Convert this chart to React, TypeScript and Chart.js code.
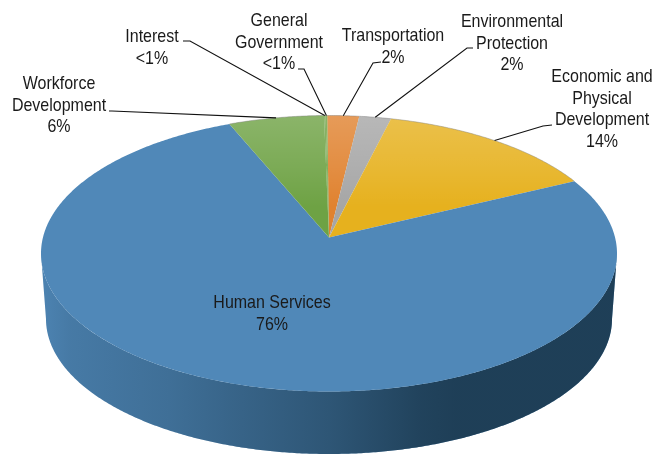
import React, { useEffect, useRef } from "react";
import { Chart, registerables } from "chart.js";

Chart.register(...registerables);

// Budget shares, clockwise from twelve o'clock.
const categories = [
  "Transportation",
  "Environmental Protection",
  "Economic and Physical Development",
  "Human Services",
  "Workforce Development",
  "Interest",
  "General Government",
];
const shares = [2, 2, 14, 76, 6, 0.1, 0.1];
const sliceColors = ["#e0822f", "#a6a6a6", "#e6b11e", "#5088b8", "#6ea244", "#6ea244", "#6ea244"];

// Label text broken over lines, in the same order as the categories.
const labelLines = [
  ["Transportation"],
  ["Environmental", "Protection"],
  ["Economic and", "Physical", "Development"],
  ["Human Services"],
  ["Workforce", "Development"],
  ["Interest"],
  ["General", "Government"],
];

const WIDTH = 667;
const HEIGHT = 455;
const FONT = '18.6px "Liberation Sans", sans-serif';
const TEXT_SQUEEZE = 0.86;
const LINE_HEIGHT = 21.7;

// Tilted disc: the top face and the lower rim are ellipses, and the disc centre
// sits above the ellipse centre because of the perspective.
const TOP = { cx: 329, cy: 253.5, rx: 288, ry: 138 };
const BOTTOM = { cx: 329, cy: 319, rx: 283, ry: 135 };
const TILT = -0.116;

type Ellipse = typeof TOP;

function project(e: Ellipse, u: number, v: number) {
  const w = 1 + TILT * v;
  return {
    x: e.cx + (e.rx * u * Math.sqrt(1 - TILT * TILT)) / w,
    y: e.cy + (e.ry * (v + TILT)) / w,
  };
}

function rimPoint(e: Ellipse, angle: number) {
  return project(e, Math.cos(angle), Math.sin(angle));
}

// Ellipse parameter of a slice angle, as seen on the drawn top face.
function ellipseParam(angle: number) {
  const p = rimPoint(TOP, angle);
  return Math.atan2((p.y - TOP.cy) / TOP.ry, (p.x - TOP.cx) / TOP.rx);
}

const onEllipse = (e: Ellipse, t: number) => ({
  x: e.cx + e.rx * Math.cos(t),
  y: e.cy + e.ry * Math.sin(t),
});

// Where each label block sits (centre x, first baseline) and where its leader starts.
const labelPlacement = [
  { x: 393, y: 41, leader: [[381, 62], [373, 63]] },
  { x: 512, y: 27, leader: [[473, 48], [467, 48]] },
  { x: 602, y: 82, leader: [[552, 125], [543, 126]] },
  { x: 272, y: 308, leader: null },
  { x: 59, y: 89, leader: [[109, 111], [112, 111]] },
  { x: 152, y: 42, leader: [[183, 41], [190, 41]] },
  { x: 279, y: 26, leader: [[298, 69], [304, 69]] },
];

const percentText = (v: number) => (v < 1 ? "<1%" : `${v}%`);

const tiltedPie = {
  id: "tiltedPie",
  beforeDatasetsDraw(chart: any) {
    const { ctx } = chart;
    const arcs = chart.getDatasetMeta(0).data;
    const colors = chart.data.datasets[0].backgroundColor;
    const STEP = Math.PI / 360;

    const steps = (from: number, to: number) => {
      const n = Math.max(1, Math.ceil(Math.abs(to - from) / STEP));
      return Array.from({ length: n + 1 }, (_, i) => from + ((to - from) * i) / n);
    };

    // Outer wall, shaded from left to right. Only the front half of the rim shows,
    // so each slice's wall is limited to that half.
    const shade = ctx.createLinearGradient(TOP.cx - TOP.rx, 0, TOP.cx + TOP.rx, 0);
    shade.addColorStop(0, "rgba(15,40,57,0.05)");
    shade.addColorStop(0.05, "rgba(15,40,57,0.15)");
    shade.addColorStop(0.22, "rgba(15,40,57,0.26)");
    shade.addColorStop(0.33, "rgba(15,40,57,0.37)");
    shade.addColorStop(0.5, "rgba(15,40,57,0.52)");
    shade.addColorStop(0.66, "rgba(15,40,57,0.72)");
    shade.addColorStop(0.72, "rgba(15,40,57,0.76)");
    shade.addColorStop(1, "rgba(15,40,57,0.76)");
    arcs.forEach((arc: any, i: number) => {
      const tStart = ellipseParam(arc.startAngle);
      const tiny = Math.PI * 2;
      const tEnd = tStart + ((ellipseParam(arc.endAngle) - tStart + tiny) % tiny);
      const from = Math.max(tStart, 0);
      const to = Math.min(tEnd, Math.PI);
      if (to <= from) return;
      const sweep = steps(from, to);
      const upper = sweep.map((t) => onEllipse(TOP, t));
      const lower = [...sweep].reverse().map((t) => onEllipse(BOTTOM, t));
      const wall = new Path2D();
      [...upper, ...lower].forEach((p, k) => (k ? wall.lineTo(p.x, p.y) : wall.moveTo(p.x, p.y)));
      wall.closePath();
      ctx.fillStyle = colors[i];
      ctx.fill(wall);
      ctx.fillStyle = shade;
      ctx.fill(wall);
    });

    // Top face, with a soft highlight towards the back rim.
    const apex = project(TOP, 0, 0);
    const sheen = ctx.createLinearGradient(0, TOP.cy - TOP.ry, 0, apex.y);
    sheen.addColorStop(0, "rgba(255,255,255,0.2)");
    sheen.addColorStop(0.4, "rgba(255,255,255,0.1)");
    sheen.addColorStop(0.75, "rgba(255,255,255,0)");
    arcs.forEach((arc: any, i: number) => {
      const face = new Path2D();
      face.moveTo(apex.x, apex.y);
      const rim = steps(arc.startAngle, arc.endAngle).map((a) => rimPoint(TOP, a));
      rim.forEach((p) => face.lineTo(p.x, p.y));
      face.closePath();
      ctx.fillStyle = colors[i];
      ctx.fill(face);
      if (i !== 3) {
        ctx.fillStyle = sheen;
        ctx.fill(face);
        // Faint grey line along the back rim.
        ctx.strokeStyle = "rgba(130,130,130,0.45)";
        ctx.lineWidth = 1;
        ctx.beginPath();
        rim.forEach((p, k) => (k ? ctx.lineTo(p.x, p.y) : ctx.moveTo(p.x, p.y)));
        ctx.stroke();
      }
    });
    return false;
  },
  afterDraw(chart: any) {
    const { ctx } = chart;
    const arcs = chart.getDatasetMeta(0).data;
    const values = chart.data.datasets[0].data;

    // Leaders run from each label to the rim at the middle of its slice.
    ctx.strokeStyle = "#111";
    ctx.lineWidth = 1.1;
    labelPlacement.forEach((place, i) => {
      if (!place.leader) return;
      const arc = arcs[i];
      const end = rimPoint(TOP, (arc.startAngle + arc.endAngle) / 2);
      ctx.beginPath();
      ctx.moveTo(place.leader[0][0], place.leader[0][1]);
      ctx.lineTo(place.leader[1][0], place.leader[1][1]);
      ctx.lineTo(end.x, end.y);
      ctx.stroke();
    });

    ctx.font = FONT;
    ctx.fillStyle = "#1a1a1a";
    ctx.textAlign = "center";
    ctx.textBaseline = "alphabetic";
    labelPlacement.forEach((place, i) => {
      const lines = [...labelLines[i], percentText(values[i])];
      lines.forEach((line, k) => {
        ctx.save();
        ctx.translate(place.x, place.y + k * LINE_HEIGHT);
        ctx.scale(TEXT_SQUEEZE, 1);
        ctx.fillText(line, 0, 0);
        ctx.restore();
      });
    });
  },
};

export default function App() {
  const ref = useRef<HTMLCanvasElement>(null);
  useEffect(() => {
    const chart = new Chart(ref.current!, {
      type: "pie",
      data: {
        labels: categories,
        datasets: [{ data: shares, backgroundColor: sliceColors, borderWidth: 0 }],
      },
      options: {
        animation: false,
        responsive: false,
        rotation: -0.4,
        plugins: { legend: { display: false }, tooltip: { enabled: false } },
      },
      plugins: [tiltedPie],
    });
    return () => chart.destroy();
  }, []);
  return (
    <canvas
      ref={ref}
      width={WIDTH}
      height={HEIGHT}
      style={{ position: "absolute", left: 0, top: 0, display: "block" }}
    />
  );
}
